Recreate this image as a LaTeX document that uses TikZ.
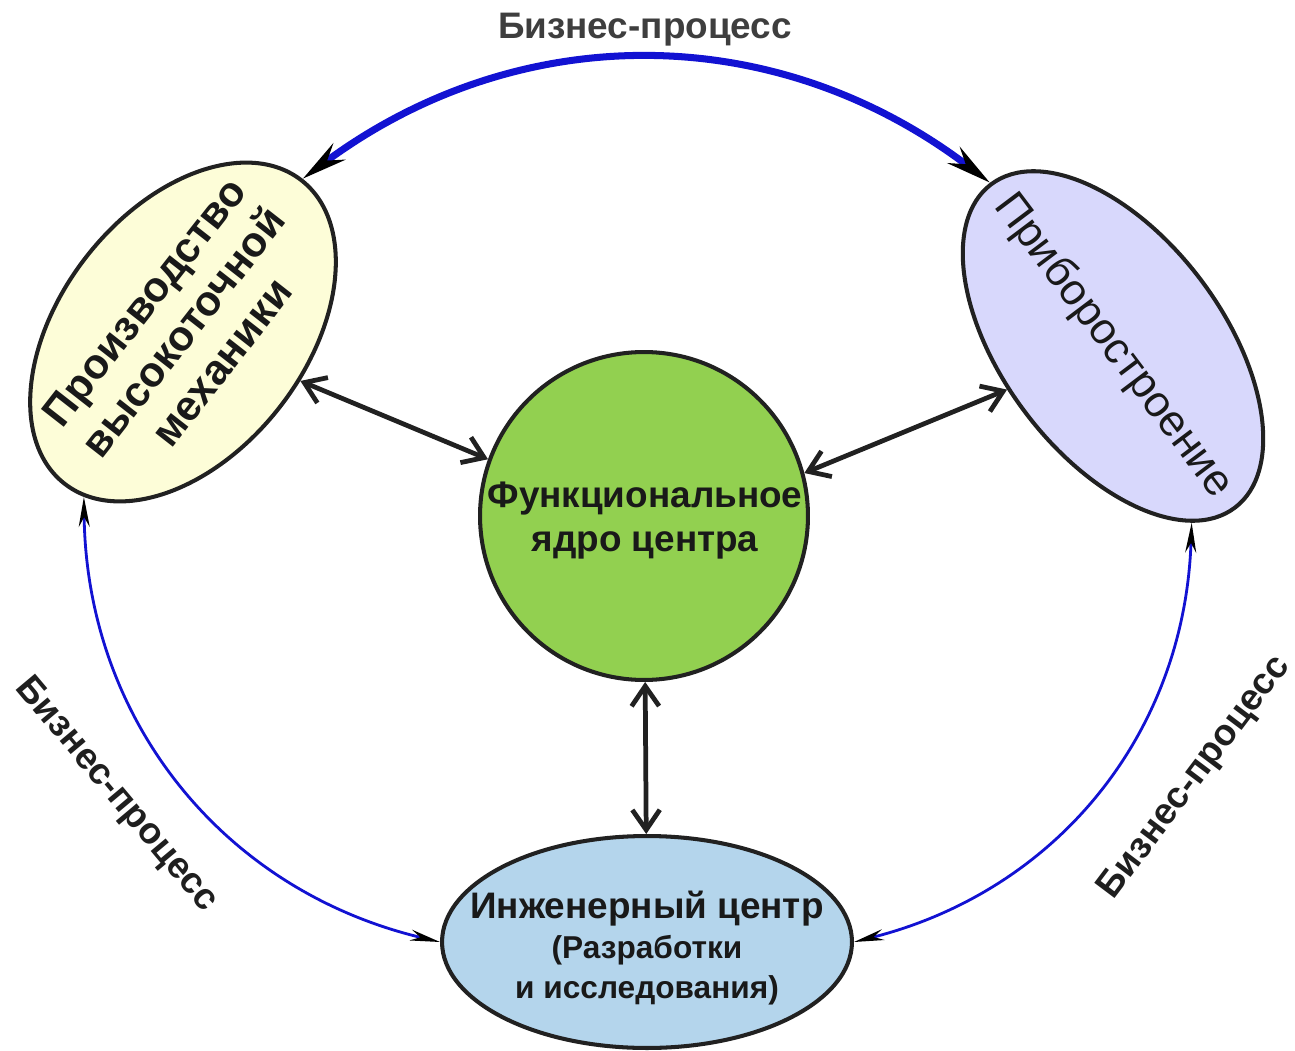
\documentclass[tikz,border=0pt]{standalone}
\usepackage{fontspec}
\setmainfont{Liberation Sans}
\usetikzlibrary{arrows.meta,shapes.geometric}

\definecolor{coregreen}{RGB}{146,208,80}
\definecolor{prodyellow}{RGB}{253,253,216}
\definecolor{pribviolet}{RGB}{216,216,252}
\definecolor{engblue}{RGB}{180,213,236}
\definecolor{procblue}{RGB}{18,18,210}
\definecolor{labelgray}{RGB}{62,62,62}
\newcommand{\engsmall}{\fontsize{18}{21}\selectfont}

\begin{document}
\begin{tikzpicture}
    [x=0.02cm, y=-0.02cm,
     unit/.style={ellipse, draw=black!87, line width=2.3pt, inner sep=0pt},
     caption/.style={align=center, inner sep=0pt, text=black!90},
     link/.style={draw=black!87, line width=2.7pt, {Straight Barb[length=4mm,width=5.5mm]}-{Straight Barb[length=4mm,width=5.5mm]}},
     flow/.style={draw=procblue, line width=1.6pt, {Stealth[black,length=6mm,width=2.2mm]}-{Stealth[black,length=6mm,width=2.2mm]}},
     bigflow/.style={draw=procblue, line width=4pt, {Stealth[black,length=9mm,width=4mm]}-{Stealth[black,length=9mm,width=4mm]}},
     bplabel/.style={font=\bfseries\fontsize{21}{25}\selectfont, text=black!88}]
    \useasboundingbox (0,0) rectangle (1295,1051);
    % units
    \node[unit, fill=prodyellow, minimum width=7.7cm, minimum height=4.9cm, rotate=52] (prod) at (183,332) {};
    \node[unit, fill=pribviolet, minimum width=8.1cm, minimum height=4.4cm, rotate=-53] (prib) at (1113,346) {};
    \node[unit, circle, fill=coregreen, minimum size=6.56cm] (core) at (644,516) {};
    \node[unit, fill=engblue, minimum width=8.2cm, minimum height=4.24cm] (eng) at (647,942) {};
    % captions
    \node[caption, rotate=52, font=\bfseries\fontsize{24}{28}\selectfont] (prodtext) at (prod) {Производство\\высокоточной\\механики};
    \node[caption, rotate=-53, font=\fontsize{25}{29}\selectfont] (pribtext) at (prib) {Приборостроение};
    \node[caption, font=\bfseries\fontsize{21}{25}\selectfont] (coretext) at (645,521) {Функциональное\\ядро центра};
    \node[caption, font=\bfseries\fontsize{21}{23}\selectfont] (engtext) at (647,948)
          {Инженерный центр\\\engsmall(Разработки\\\engsmall и исследования)};
    % labels
    \node[bplabel, text=labelgray] (toplbl) at (645,30) {Бизнес-процесс};
    \node[bplabel, rotate=-50] (leftlbl) at (116,795) {Бизнес-процесс};
    \node[bplabel, rotate=53] (rightlbl) at (1195,778) {Бизнес-процесс};
    % business processes
    \draw[bigflow] (prod.east) to[bend left=37] (prib.west);
    \draw[flow] (prod.187) to[bend right=38] (eng.west);
    \draw[flow] (eng.east) to[bend right=37] (prib.-13);
    % links to the core
    \draw[link] (prod) -- (core.160);
    \draw[link] (core.15) -- (prib);
    \draw[link] (core) -- (eng);
\end{tikzpicture}
\end{document}
